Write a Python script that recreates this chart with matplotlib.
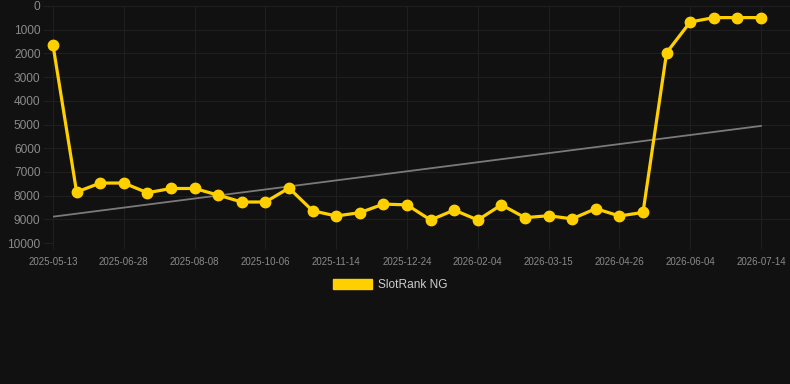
import matplotlib
matplotlib.use("Agg")
import matplotlib.pyplot as plt
from matplotlib.patches import Patch
import numpy as np

plt.rcParams["font.family"] = ["Liberation Sans", "DejaVu Sans"]

rank_values = [1650, 7850, 7470, 7470, 7880, 7700, 7700, 7980, 8270, 8270,
               7680, 8640, 8860, 8720, 8360, 8390, 9030, 8610, 9030, 8390,
               8930, 8850, 8980, 8550, 8860, 8710, 1970, 675, 490, 490, 490]
tick_labels = ["2025-05-13", "2025-06-28", "2025-08-08", "2025-10-06",
               "2025-11-14", "2025-12-24", "2026-02-04", "2026-03-15",
               "2026-04-26", "2026-06-04", "2026-07-14"]
trend_values = [8890, 5060]  # trend line start / end
series_name = "SlotRank NG"

BG = "#111111"
GRID = "#1f1f1f"
TXT = "#8a8a8a"
YEL = "#FFD000"

W, H = 790, 384
fig = plt.figure(figsize=(W / 100, H / 100), dpi=100, facecolor=BG)
left_px, right_px, top_px, bot_px = 53, 790, 6, 243
ax = fig.add_axes([left_px / W, 1 - bot_px / H, (right_px - left_px) / W, (bot_px - top_px) / H])
ax.set_facecolor(BG)

x = np.arange(len(rank_values))
step_px = (761 - 53) / (len(rank_values) - 1)
ax.set_xlim(0, (right_px - left_px) / step_px)
ax.set_ylim(10000, 0)

# trend line
ax.plot([x[0], x[-1]], trend_values, color="#7a7a7a", lw=1.3, zorder=2)
# main series
ax.plot(x, rank_values, color=YEL, lw=2.3, marker="o", markersize=7.5,
        markerfacecolor=YEL, markeredgecolor=YEL, zorder=3, solid_joinstyle="round",
        clip_on=False)

ax.set_yticks(np.arange(0, 10001, 1000))
ax.set_yticklabels([str(v) for v in range(0, 10001, 1000)])
tick_pos = x[::3]
ax.set_xticks(tick_pos)
ax.set_xticklabels(tick_labels)

ax.grid(True, color=GRID, lw=0.8)
ax.set_axisbelow(True)
for s in ax.spines.values():
    s.set_visible(False)
ax.tick_params(axis="y", colors=GRID, length=7, width=0.8, labelcolor=TXT, labelsize=8.6, pad=2)
ax.tick_params(axis="x", colors=GRID, length=4, width=0.8, labelcolor=TXT, labelsize=7, pad=6)

fig.legend(handles=[Patch(facecolor=YEL, edgecolor=YEL)], labels=[series_name],
           loc="center", bbox_to_anchor=(390 / W, 1 - 285 / H), frameon=False,
           fontsize=8.6, labelcolor="#cccccc", handlelength=3.3, handleheight=0.92,
           handletextpad=0.5)

fig.savefig("out.png", dpi=100, facecolor=BG)
